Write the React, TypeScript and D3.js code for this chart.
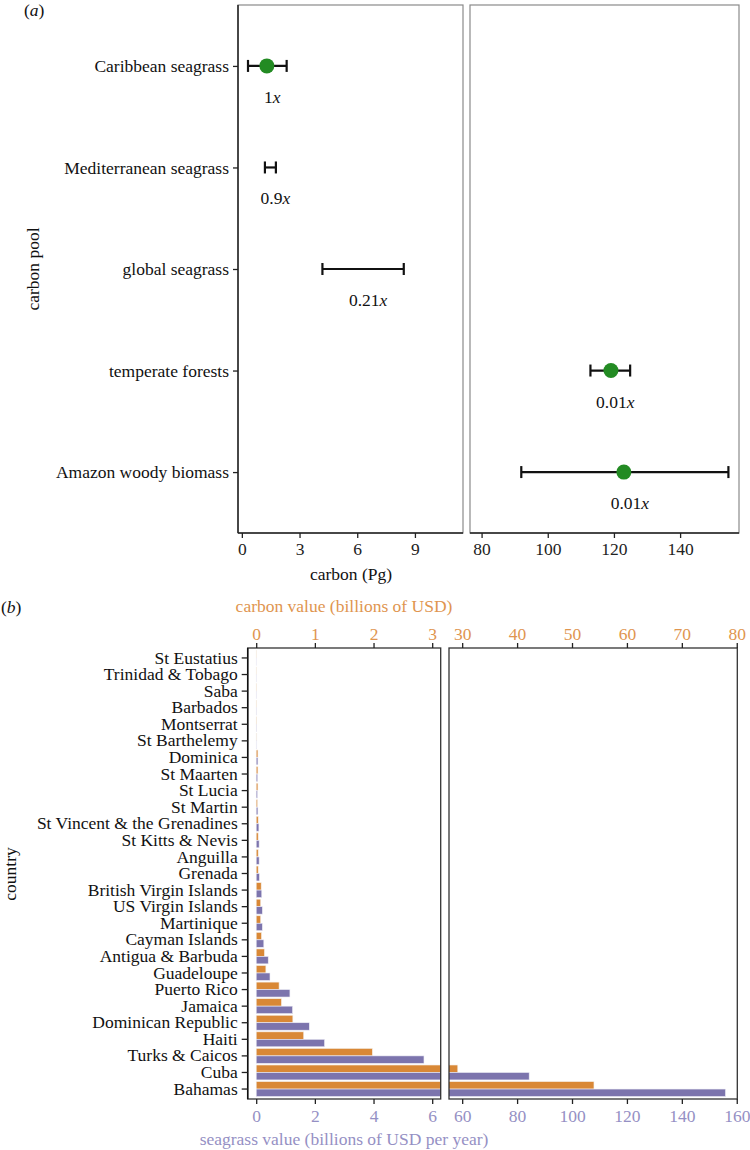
import React, { useEffect, useRef } from "react";
import { select, scaleLinear, scalePoint, scaleBand, axisBottom, axisTop, axisLeft } from "d3";

// panel (a): carbon pools
const poolNames = [
  "Caribbean seagrass",
  "Mediterranean seagrass",
  "global seagrass",
  "temperate forests",
  "Amazon woody biomass",
];
const poolMean = [1.3, NaN, NaN, 119.1, 123.0];
const poolLow = [0.32, 1.2, 4.19, 112.9, 92.0];
const poolHigh = [2.33, 1.77, 8.42, 124.9, 154.6];
const poolRatio = ["1", "0.9", "0.21", "0.01", "0.01"];
const poolPanel = [0, 0, 0, 1, 1];
const carbonTicksLeft = [0, 3, 6, 9];
const carbonTicksRight = [80, 100, 120, 140];

// panel (b): country values
const countries = [
  "St Eustatius", "Trinidad & Tobago", "Saba", "Barbados", "Montserrat",
  "St Barthelemy", "Dominica", "St Maarten", "St Lucia", "St Martin",
  "St Vincent & the Grenadines", "St Kitts & Nevis", "Anguilla", "Grenada",
  "British Virgin Islands", "US Virgin Islands", "Martinique", "Cayman Islands",
  "Antigua & Barbuda", "Guadeloupe", "Puerto Rico", "Jamaica",
  "Dominican Republic", "Haiti", "Turks & Caicos", "Cuba", "Bahamas",
];
const carbonValue = [
  0.002, 0.002, 0.003, 0.003, 0.004, 0.01, 0.029, 0.029, 0.029, 0.022,
  0.034, 0.034, 0.034, 0.034, 0.085, 0.077, 0.077, 0.09, 0.14, 0.165,
  0.39, 0.43, 0.625, 0.81, 1.98, 29.2, 54.0,
];
const seagrassValue = [
  0.003, 0.004, 0.005, 0.006, 0.008, 0.02, 0.058, 0.051, 0.044, 0.058,
  0.092, 0.1, 0.1, 0.11, 0.19, 0.21, 0.21, 0.26, 0.41, 0.47,
  1.15, 1.24, 1.81, 2.33, 5.72, 84.4, 155.9,
];
const carbonTopTicksLeft = [0, 1, 2, 3];
const carbonTopTicksRight = [30, 40, 50, 60, 70, 80];
const seagrassTicksLeft = [0, 2, 4, 6];
const seagrassTicksRight = [60, 80, 100, 120, 140, 160];

const FONT = "'Liberation Serif', 'Times New Roman', serif";
const FS = 17.5;
const GREEN = "#238b23";
const ORANGE = "#d98836";
const PURPLE = "#7c74ad";
const ORANGE_TXT = "#e0954f";
const PURPLE_TXT = "#9590c4";

export default function App() {
  const svgRef = useRef<SVGSVGElement>(null);

  useEffect(() => {
    const svg = select(svgRef.current);
    svg.selectAll("*").remove();
    const fmt = (d: any) => String(d);

    // ---------- panel (a) ----------
    const aTop = 5, aBottom = 533;
    const xa = [
      scaleLinear().domain([-0.2, 11.5]).range([238, 463]),
      scaleLinear().domain([76.5, 157.8]).range([470, 739]),
    ];
    const ya = scalePoint().domain(poolNames).range([aTop, aBottom]).padding(0.6);

    xa.forEach((x) => {
      const [r0, r1] = x.range();
      svg.append("rect")
        .attr("x", r0).attr("y", aTop).attr("width", r1 - r0).attr("height", aBottom - aTop)
        .attr("fill", "none").attr("stroke", "#8a8a8a").attr("stroke-width", 1.2);
      svg.append("line")
        .attr("x1", r0).attr("x2", r1).attr("y1", aBottom).attr("y2", aBottom)
        .attr("stroke", "#222").attr("stroke-width", 1.5);
    });
    svg.append("line")
      .attr("x1", 238).attr("x2", 238).attr("y1", aTop).attr("y2", aBottom)
      .attr("stroke", "#222").attr("stroke-width", 1.5);

    [carbonTicksLeft, carbonTicksRight].forEach((ticks, i) => {
      const g = svg.append("g")
        .attr("transform", `translate(0,${aBottom})`)
        .call(axisBottom(xa[i]).tickValues(ticks).tickFormat(fmt).tickSize(5).tickSizeOuter(0).tickPadding(5));
      g.select(".domain").remove();
      g.selectAll("line").attr("stroke", "#222").attr("stroke-width", 1.3);
      g.selectAll("text").attr("font-family", FONT).attr("font-size", FS).attr("fill", "#222");
    });

    const ga = svg.append("g")
      .attr("transform", "translate(238,0)")
      .call(axisLeft(ya).tickSize(5).tickSizeOuter(0).tickPadding(4));
    ga.select(".domain").remove();
    ga.selectAll("line").attr("stroke", "#222").attr("stroke-width", 1.3);
    ga.selectAll("text").attr("font-family", FONT).attr("font-size", FS).attr("fill", "#111");

    poolNames.forEach((name, i) => {
      const x = xa[poolPanel[i]];
      const y = ya(name)!;
      const g = svg.append("g");
      g.append("line").attr("x1", x(poolLow[i])).attr("x2", x(poolHigh[i]))
        .attr("y1", y).attr("y2", y).attr("stroke", "#111").attr("stroke-width", 2.2);
      [poolLow[i], poolHigh[i]].forEach((v) => {
        g.append("line").attr("x1", x(v)).attr("x2", x(v))
          .attr("y1", y - 6).attr("y2", y + 6).attr("stroke", "#111").attr("stroke-width", 2.2);
      });
      if (!isNaN(poolMean[i])) {
        g.append("circle").attr("cx", x(poolMean[i])).attr("cy", y).attr("r", 7.5).attr("fill", GREEN);
      }
      const t = g.append("text")
        .attr("x", x((poolLow[i] + poolHigh[i]) / 2) + 5).attr("y", y + 37)
        .attr("text-anchor", "middle").attr("font-family", FONT).attr("font-size", FS).attr("fill", "#111");
      t.append("tspan").text(poolRatio[i]);
      t.append("tspan").attr("font-style", "italic").text("x");
    });

    svg.append("text").attr("x", 351).attr("y", 580).attr("text-anchor", "middle")
      .attr("font-family", FONT).attr("font-size", FS).attr("fill", "#111").text("carbon (Pg)");
    svg.append("text").attr("transform", "translate(39,269) rotate(-90)").attr("text-anchor", "middle")
      .attr("font-family", FONT).attr("font-size", FS).attr("fill", "#111").text("carbon pool");
    const la = svg.append("text").attr("x", 24).attr("y", 16)
      .attr("font-family", FONT).attr("font-size", FS).attr("fill", "#111");
    la.append("tspan").text("(");
    la.append("tspan").attr("font-style", "italic").text("a");
    la.append("tspan").text(")");

    // ---------- panel (b) ----------
    const bTop = 648, bBottom = 1099;
    const xs = [
      scaleLinear().domain([-0.29, 6.29]).range([247.7, 440.7]),
      scaleLinear().domain([55.2, 160.2]).range([449, 737.3]),
    ];
    const xc = [
      scaleLinear().domain([-0.145, 3.145]).range([247.7, 440.7]),
      scaleLinear().domain([27.6, 80.1]).range([449, 737.3]),
    ];
    const yb = scaleBand().domain(countries).range([bTop, bBottom]).paddingOuter(0.1).paddingInner(0);
    const half = yb.step() * 0.45;

    const defs = svg.append("defs");
    xs.forEach((x, i) => {
      const [r0, r1] = x.range();
      defs.append("clipPath").attr("id", `clipb${i}`)
        .append("rect").attr("x", r0).attr("y", bTop).attr("width", r1 - r0).attr("height", bBottom - bTop);
    });

    xs.forEach((x, p) => {
      const g = svg.append("g").attr("clip-path", `url(#clipb${p})`);
      countries.forEach((c, i) => {
        const yc = yb(c)! + yb.bandwidth() / 2;
        const x0 = x(0);
        g.append("rect")
          .attr("x", x0).attr("y", yc - half)
          .attr("width", Math.max(0, xc[p](carbonValue[i]) - x0)).attr("height", half)
          .attr("fill", ORANGE).attr("stroke", "#f4eee8").attr("stroke-width", 0.6);
        g.append("rect")
          .attr("x", x0).attr("y", yc)
          .attr("width", Math.max(0, x(seagrassValue[i]) - x0)).attr("height", half)
          .attr("fill", PURPLE).attr("stroke", "#eeeef6").attr("stroke-width", 0.6);
      });
    });

    xs.forEach((x) => {
      const [r0, r1] = x.range();
      svg.append("rect")
        .attr("x", r0).attr("y", bTop).attr("width", r1 - r0).attr("height", bBottom - bTop)
        .attr("fill", "none").attr("stroke", "#333").attr("stroke-width", 1.3);
    });
    svg.append("line")
      .attr("x1", 247.7).attr("x2", 247.7).attr("y1", bTop).attr("y2", bBottom)
      .attr("stroke", "#111").attr("stroke-width", 1.5);

    [seagrassTicksLeft, seagrassTicksRight].forEach((ticks, i) => {
      const g = svg.append("g")
        .attr("transform", `translate(0,${bBottom})`)
        .call(axisBottom(xs[i]).tickValues(ticks).tickFormat(fmt).tickSize(5).tickSizeOuter(0).tickPadding(6));
      g.select(".domain").remove();
      g.selectAll("line").attr("stroke", "#222").attr("stroke-width", 1.3);
      g.selectAll("text").attr("font-family", FONT).attr("font-size", FS).attr("fill", PURPLE_TXT);
    });
    [carbonTopTicksLeft, carbonTopTicksRight].forEach((ticks, i) => {
      const g = svg.append("g")
        .attr("transform", `translate(0,${bTop})`)
        .call(axisTop(xc[i]).tickValues(ticks).tickFormat(fmt).tickSize(5).tickSizeOuter(0).tickPadding(3));
      g.select(".domain").remove();
      g.selectAll("line").attr("stroke", "#222").attr("stroke-width", 1.3);
      g.selectAll("text").attr("font-family", FONT).attr("font-size", FS).attr("fill", ORANGE_TXT);
    });

    const gb = svg.append("g")
      .attr("transform", "translate(247.7,0)")
      .call(axisLeft(yb).tickSize(6).tickSizeOuter(0).tickPadding(4));
    gb.select(".domain").remove();
    gb.selectAll("line").attr("stroke", "#222").attr("stroke-width", 1.3);
    gb.selectAll("text").attr("font-family", FONT).attr("font-size", FS).attr("fill", "#111");

    svg.append("text").attr("x", 344).attr("y", 612).attr("text-anchor", "middle")
      .attr("font-family", FONT).attr("font-size", FS).attr("fill", ORANGE_TXT)
      .text("carbon value (billions of USD)");
    svg.append("text").attr("x", 344).attr("y", 1145).attr("text-anchor", "middle")
      .attr("font-family", FONT).attr("font-size", FS).attr("fill", PURPLE_TXT)
      .text("seagrass value (billions of USD per year)");
    svg.append("text").attr("transform", "translate(16,874) rotate(-90)").attr("text-anchor", "middle")
      .attr("font-family", FONT).attr("font-size", FS).attr("fill", "#111").text("country");
    const lb = svg.append("text").attr("x", 1).attr("y", 613)
      .attr("font-family", FONT).attr("font-size", FS).attr("fill", "#111");
    lb.append("tspan").text("(");
    lb.append("tspan").attr("font-style", "italic").text("b");
    lb.append("tspan").text(")");
  }, []);

  return (
    <svg
      ref={svgRef}
      width={750}
      height={1150}
      style={{ position: "absolute", left: 0, top: 0, background: "#fff" }}
    />
  );
}
